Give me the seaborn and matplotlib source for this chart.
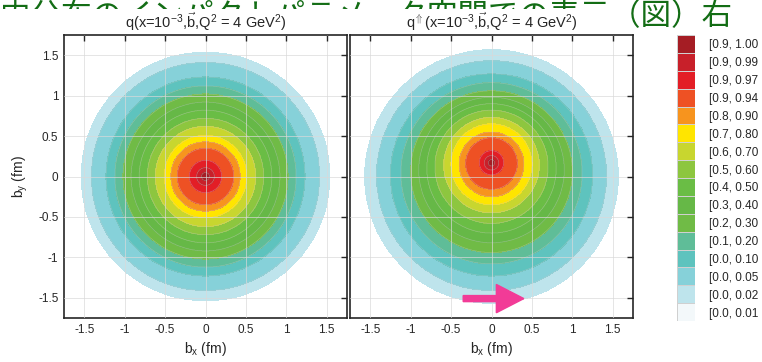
import numpy as np
import matplotlib
matplotlib.use("Agg")
import matplotlib.pyplot as plt
from matplotlib.colors import ListedColormap
from matplotlib.patches import Rectangle
import seaborn as sns

# contour levels (fraction of the maximum)
levels = [0.01, 0.02, 0.05, 0.10, 0.20, 0.30, 0.40, 0.50, 0.60, 0.70, 0.80, 0.90, 0.94, 0.97, 0.99, 1.00]

# radius (fm) and b_y centre of each contour
radius_q = [1.54, 1.41, 1.23, 1.12, 1.02, 0.92, 0.82, 0.72, 0.62, 0.51, 0.43, 0.35, 0.20, 0.11, 0.05]
center_q = [0.0, 0.0, 0.0, 0.0, 0.0, 0.0, 0.0, 0.0, 0.0, 0.0, 0.0, 0.0, 0.0, 0.0, 0.0]
radius_qup = [1.57, 1.42, 1.25, 1.12, 1.00, 0.90, 0.80, 0.70, 0.59, 0.50, 0.40, 0.32, 0.15, 0.09, 0.04]
center_qup = [0.0, 0.01, 0.02, 0.04, 0.06, 0.08, 0.10, 0.12, 0.14, 0.15, 0.15, 0.16, 0.17, 0.17, 0.17]

# legend (top to bottom)
legend_labels = ["[0.9, 1.00", "[0.9, 0.99", "[0.9, 0.97", "[0.9, 0.94", "[0.8, 0.90",
                 "[0.7, 0.80", "[0.6, 0.70", "[0.5, 0.60", "[0.4, 0.50", "[0.3, 0.40",
                 "[0.2, 0.30", "[0.1, 0.20", "[0.0, 0.10", "[0.0, 0.05", "[0.0, 0.02",
                 "[0.0, 0.01"]
legend_colors = ["#A51D24", "#C8202A", "#E31E26", "#EE5124", "#F7941E",
                 "#FFE500", "#C8D62F", "#8DC63F", "#6ABD45", "#66B847",
                 "#70BB46", "#5FBD98", "#5EC3BE", "#86D1D9", "#BEE4EC",
                 "#F3F8FA"]

ticks = [-1.5, -1, -0.5, 0, 0.5, 1, 1.5]
tick_labels = ["-1.5", "-1", "-0.5", "0", "0.5", "1", "1.5"]

titles = [r"q(x=10$^{-3}$,$\vec{\mathrm{b}}$,Q$^{2}$ = 4 GeV$^{2}$)",
          r"q$^{\Uparrow}$(x=10$^{-3}$,$\vec{\mathrm{b}}$,Q$^{2}$ = 4 GeV$^{2}$)"]
heading = "内分布のインパクトパラメータ空間での表示（図）右"

# arrow under the right panel (data coords)
arrow_x0, arrow_x1, arrow_y = -0.35, 0.40, -1.51

sns.set_theme(style="white")
plt.rcParams["font.family"] = ["Liberation Sans", "DejaVu Sans"]
plt.rcParams["mathtext.fontset"] = "custom"
plt.rcParams["mathtext.rm"] = "Liberation Sans"
plt.rcParams["mathtext.it"] = "Liberation Sans"
plt.rcParams["axes.unicode_minus"] = False


def campo(radios, centros):
    b = np.linspace(-1.75, 1.75, 801)
    bx, by = np.meshgrid(b, b)
    f = np.full(bx.shape, -1.0)
    for k, (r, c) in enumerate(zip(radios, centros)):
        f[np.hypot(bx, by - c) < r] = 0.5 * (levels[k] + levels[k + 1])
    return bx, by, f


band_colors = legend_colors[:15][::-1]

fig = plt.figure(figsize=(7.62, 3.62), dpi=100)
ax1 = fig.add_axes([64 / 762, 1 - 318 / 362, 283 / 762, 283 / 362])
ax2 = fig.add_axes([350 / 762, 1 - 318 / 362, 283 / 762, 283 / 362])
axl = fig.add_axes([677 / 762, 1 - 321 / 362, 18 / 762, 286 / 362])

for ax, rad, cen, tit in [(ax1, radius_q, center_q, titles[0]),
                          (ax2, radius_qup, center_qup, titles[1])]:
    bx, by, f = campo(rad, cen)
    ax.contourf(bx, by, f, levels=levels, colors=band_colors)
    ax.contour(bx, by, f, levels=levels[1:-1], colors="#c8c8c8", linewidths=0.4, alpha=0.5)
    ax.set_xlim(-1.75, 1.75)
    ax.set_ylim(-1.75, 1.75)
    ax.set_xticks(ticks)
    ax.set_xticklabels(tick_labels)
    ax.set_yticks(ticks)
    ax.set_yticklabels(tick_labels)
    ax.tick_params(direction="in", top=True, right=True, length=4, width=1,
                   labelsize=8.5, colors="#262626", pad=4)
    ax.grid(True, color="#d9d9d9", alpha=0.7, lw=0.7)
    ax.set_axisbelow(False)
    for s in ax.spines.values():
        s.set_color("#262626")
        s.set_linewidth(1.2)
    ax.set_title(tit, fontsize=10.5, color="#262626", pad=5)
    ax.set_xlabel(r"b$_{\mathrm{x}}$ (fm)", fontsize=10, color="#262626", labelpad=3)
    ax.set_zorder(5)

ax1.set_ylabel(r"b$_{\mathrm{y}}$ (fm)", fontsize=10, color="#262626", labelpad=6)
ax2.set_yticklabels([])

ax2.arrow(arrow_x0, arrow_y, arrow_x1 - arrow_x0, 0, width=0.075, head_width=0.35,
          head_length=0.34, length_includes_head=True, color="#F23B97", zorder=5)

# legend column
sns.heatmap(np.arange(len(legend_labels)).reshape(-1, 1), ax=axl,
            cmap=ListedColormap(legend_colors), vmin=0, vmax=len(legend_labels) - 1,
            cbar=False, linewidths=0.6, linecolor="#d0d0d0",
            xticklabels=False, yticklabels=legend_labels)
axl.yaxis.tick_right()
axl.tick_params(axis="y", length=0, pad=10, labelsize=8.5, labelcolor="#262626")
for t in axl.get_yticklabels():
    t.set_rotation(0)
    t.set_ha("left")

# slide heading behind the chart picture: only its top shows, except at the right
fig.text(0.0, 1 - 25 / 362, heading, color="#136D15", fontsize=22,
         family=["Noto Sans CJK JP", "DejaVu Sans"], va="baseline", zorder=3)
fig.add_artist(Rectangle((0, 1 - 35 / 362), 622 / 762, 26 / 362, transform=fig.transFigure,
                         facecolor="white", edgecolor="none", zorder=4))

fig.savefig("out.png", dpi=100)
